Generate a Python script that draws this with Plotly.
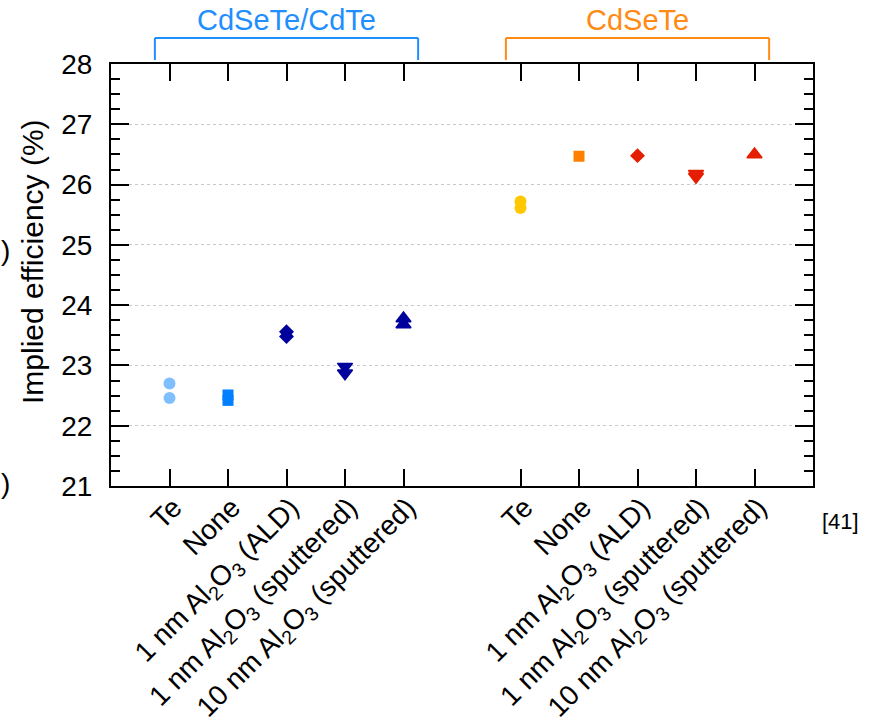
import plotly.graph_objects as go

# ---------------- data ----------------
treatments = [
    "Te",
    "None",
    "1 nm Al<sub>2</sub>O<sub>3</sub> (ALD)",
    "1 nm Al<sub>2</sub>O<sub>3</sub> (sputtered)",
    "10 nm Al<sub>2</sub>O<sub>3</sub> (sputtered)",
]
groups = ["CdSeTe/CdTe", "CdSeTe"]

# implied efficiency (%) per treatment, repeated measurements
eff_cdsete_cdte = [
    [22.70, 22.46],
    [22.51, 22.42],
    [23.56, 23.48],
    [22.98, 22.87],
    [23.78, 23.68],
]
eff_cdsete = [
    [25.72, 25.61],
    [26.47],
    [26.48],
    [26.18, 26.13],
    [26.50],
]
group_values = [eff_cdsete_cdte, eff_cdsete]

y_range = [21, 28]
y_title = "Implied efficiency (%)"
reference_note = "[41]"

# ---------------- styles ----------------
symbols = ["circle", "square", "diamond", "triangle-down", "triangle-up"]
sizes = [12, 11, 11.5, 13, 13]
line_w = [0, 0, 0, 1.5, 1.5]
colors = [
    ["#80bfff", "#0080ff", "#00009c", "#00009c", "#00009c"],
    ["#ffc800", "#ff8000", "#e61e00", "#e61e00", "#e61e00"],
]
group_colors = ["#1f8fff", "#ff8a14"]

FONT = "Arial, Liberation Sans, Helvetica, sans-serif"
FS = 28

fig = go.Figure()

n = len(treatments)
tickvals, ticktext = [], []
for g, vals in enumerate(group_values):
    offset = g * (n + 1)
    for i, v in enumerate(vals):
        xpos = i + offset
        tickvals.append(xpos)
        ticktext.append(treatments[i])
        fig.add_trace(go.Scatter(
            x=[xpos] * len(v), y=v, mode="markers",
            marker=dict(symbol=symbols[i], size=sizes[i], color=colors[g][i],
                        line=dict(width=line_w[i], color=colors[g][i])),
            showlegend=False, hoverinfo="skip",
        ))

fig.update_layout(
    width=871, height=724,
    margin=dict(l=111, r=58, t=64, b=238),
    paper_bgcolor="white", plot_bgcolor="white",
    font=dict(family=FONT, size=FS, color="black"),
    xaxis=dict(
        range=[-1, 2 * n + 1], tickvals=tickvals, ticktext=ticktext,
        tickangle=-45, ticks="inside", ticklen=17, tickwidth=2, tickcolor="black",
        showline=True, linewidth=2, linecolor="black", mirror="ticks",
        showgrid=False, zeroline=False, tickfont=dict(size=FS),
        automargin=False, ticklabelshift=4, ticklabelstandoff=-8,
    ),
    yaxis=dict(
        range=y_range, dtick=1, ticks="inside", ticklen=18, tickwidth=2,
        tickcolor="black", showline=True, linewidth=2, linecolor="black",
        mirror="ticks", showgrid=True, gridcolor="#c8c8c8", griddash="dot",
        gridwidth=1, zeroline=False, tickfont=dict(size=FS),
        ticklabelstandoff=11, automargin=False,
        minor=dict(dtick=0.25, ticks="inside", ticklen=9, tickwidth=2,
                   tickcolor="black", showgrid=False),
    ),
)

# group brackets + labels
for g, name in enumerate(groups):
    offset = g * (n + 1)
    x0, x1 = offset - 0.25, offset + n - 1 + 0.25
    lc = dict(color=group_colors[g], width=2)
    fig.add_shape(type="line", xref="x", yref="paper", x0=x0, x1=x1, y0=1.0616, y1=1.0616, line=lc)
    fig.add_shape(type="line", xref="x", yref="paper", x0=x0, x1=x0, y0=1.0095, y1=1.0616, line=lc)
    fig.add_shape(type="line", xref="x", yref="paper", x0=x1, x1=x1, y0=1.0095, y1=1.0616, line=lc)
    fig.add_annotation(x=(x0 + x1) / 2, xref="x", y=1.104, yref="paper", text=name,
                       showarrow=False, font=dict(size=29, color=group_colors[g]),
                       xanchor="center", yanchor="middle")

fig.add_annotation(x=-0.111, xref="paper", y=0.531, yref="paper", text=y_title,
                   textangle=-90, showarrow=False, font=dict(size=30),
                   xanchor="center", yanchor="middle")
fig.add_annotation(x=1.0385, xref="paper", y=-0.0853, yref="paper", text=reference_note,
                   showarrow=False, font=dict(size=22), xanchor="center", yanchor="middle")
# fragments of neighbouring panel text at the left edge
for yy in [0.559, 0.007]:
    fig.add_annotation(x=-0.158, xref="paper", y=yy, yref="paper", text=")",
                       showarrow=False, font=dict(size=FS), xanchor="left", yanchor="middle",
                       borderpad=0)

fig.write_html("out.html")
